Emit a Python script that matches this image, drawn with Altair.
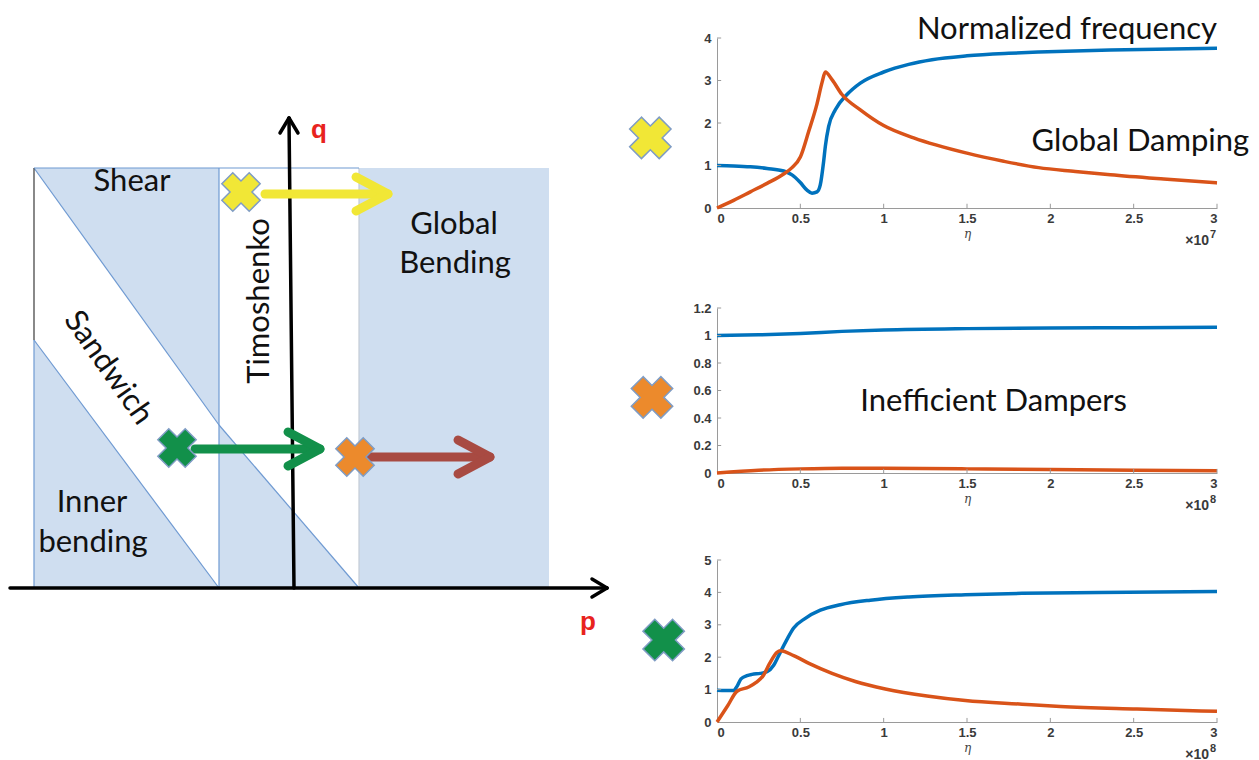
import altair as alt
import pandas as pd

# ---------------- Regime diagram (schematic p-q plane) ----------------
region_p_edges = [-26, -7.5, 6.5, 25.5]      # left edge, divider 1, divider 2, right edge
region_top_q = 42
upper_diag_p = [-26, -7.5, 6.5]
upper_diag_q = [42, 16.3, 0]
lower_diag_p = [-26, -7.5]
lower_diag_q = [24.8, 0]

p_axis_range = [-28.4, 31.3]
q_axis_top = 47

arrow_start_p = [-2.9, -9.9, 7.6]
arrow_end_p = [9.4, 2.6, 19.6]
arrow_q = [39.4, 13.9, 13.1]
arrow_colors = ["#f1e736", "#12904a", "#a84a42"]

cross_p = [-5.3, -11.7, 6.1]
cross_q = [39.6, 14.0, 13.1]
cross_colors = ["#f1e736", "#12904a", "#ec8a2c"]

diagram_labels = ["Shear", "Global", "Bending", "Inner", "bending", "Timoshenko", "Sandwich"]
label_p = [-16.2, 16.0, 16.1, -20.2, -20.1, -3.4, -18.6]
label_q = [40.6, 36.3, 32.4, 8.5, 4.5, 28.7, 22.0]
label_angle = [0, 0, 0, 0, 0, 270, 55]

axis_letters = ["q", "p"]
axis_letter_p = [2.5, 29.4]
axis_letter_q = [45.8, -3.4]

# ---------------- Right panels: normalized frequency (blue) and damping (orange) ----------------
x_ticks = [0, 0.5, 1, 1.5, 2, 2.5, 3]

eta_b1 = [0, 0.1, 0.2, 0.3, 0.4, 0.45, 0.5, 0.54, 0.57, 0.6, 0.62, 0.64, 0.65, 0.67, 0.71,
          0.78, 0.86, 1.0, 1.15, 1.29, 1.5, 1.75, 1.93, 2.36, 3.0]
val_b1 = [1.0, 0.99, 0.97, 0.93, 0.87, 0.78, 0.6, 0.42, 0.35, 0.38, 0.55, 1.1, 1.45, 1.92, 2.31,
          2.67, 2.94, 3.2, 3.38, 3.49, 3.58, 3.64, 3.67, 3.72, 3.76]
eta_r1 = [0, 0.1, 0.2, 0.3, 0.4, 0.45, 0.5, 0.55, 0.6, 0.63, 0.65, 0.69, 0.75, 0.86, 1.0, 1.18,
          1.5, 1.72, 1.93, 2.15, 2.36, 2.68, 3.0]
val_r1 = [0, 0.18, 0.38, 0.58, 0.8, 0.95, 1.2, 1.8, 2.45, 2.95, 3.2, 3.02, 2.67, 2.31, 1.94, 1.65,
          1.29, 1.1, 0.95, 0.86, 0.78, 0.68, 0.59]
y_ticks1 = [0, 1, 2, 3, 4]

eta_b2 = [0, 0.25, 0.5, 0.75, 1.0, 1.5, 2.0, 2.5, 3.0]
val_b2 = [1.0, 1.005, 1.015, 1.03, 1.04, 1.05, 1.055, 1.057, 1.06]
eta_r2 = [0, 0.25, 0.5, 0.75, 1.0, 1.5, 2.0, 2.5, 3.0]
val_r2 = [0, 0.02, 0.03, 0.035, 0.034, 0.03, 0.025, 0.02, 0.017]
y_ticks2 = [0, 0.2, 0.4, 0.6, 0.8, 1, 1.2]

eta_b3 = [0, 0.05, 0.1, 0.12, 0.144, 0.18, 0.21, 0.26, 0.3, 0.34, 0.37, 0.42, 0.46, 0.53, 0.62,
          0.74, 0.92, 1.15, 1.49, 1.83, 2.29, 3.0]
val_b3 = [0.98, 0.97, 0.97, 1.1, 1.33, 1.43, 1.47, 1.5, 1.55, 1.75, 2.05, 2.55, 2.9, 3.2, 3.45,
          3.62, 3.76, 3.86, 3.93, 3.97, 4.0, 4.03]
eta_r3 = [0, 0.064, 0.12, 0.19, 0.235, 0.28, 0.315, 0.36, 0.38, 0.46, 0.555, 0.69, 0.83, 1.01,
          1.26, 1.49, 1.83, 2.06, 2.52, 3.0]
val_r3 = [0, 0.5, 0.95, 1.08, 1.22, 1.45, 1.8, 2.15, 2.2, 2.05, 1.8, 1.5, 1.25, 1.02, 0.8, 0.66,
          0.55, 0.48, 0.4, 0.33]
y_ticks3 = [0, 1, 2, 3, 4, 5]

BLUE = "#0072BD"
ORANGE = "#D95319"
FILL = "#cfdef0"
EDGE = "#6f9ad2"
LABEL_FONT = "Lato"

# ======================= Left: regime diagram =======================
W1, H1 = 700, 700
xs = alt.Scale(domain=[-28.4, -28.4 + W1 / 10], nice=False, zero=False)
ys = alt.Scale(domain=[58 - H1 / 10, 58], nice=False, zero=False)


def X(f):
    return alt.X(f, type="quantitative", scale=xs, axis=None)


def Y(f):
    return alt.Y(f, type="quantitative", scale=ys, axis=None)


bg_df = pd.DataFrame({"p": [region_p_edges[0]], "p2": [region_p_edges[3]],
                      "q": [0], "q2": [region_top_q]})
bg = alt.Chart(bg_df).mark_rect(color=FILL).encode(
    x=X("p"), x2="p2", y=Y("q"), y2="q2")

white_df = pd.DataFrame({
    "p": [lower_diag_p[0], lower_diag_p[1], upper_diag_p[1], upper_diag_p[2]],
    "lo": [lower_diag_q[0], lower_diag_q[1], upper_diag_q[1], upper_diag_q[2]],
    "hi": [upper_diag_q[0], upper_diag_q[1], region_top_q, region_top_q],
    "r": ["sandwich", "sandwich", "timoshenko", "timoshenko"],
})
white = alt.Chart(white_df).mark_area(color="white", opacity=1).encode(
    x=X("p"), y=Y("lo"), y2="hi", detail="r:N")

L, D1, D2, R = region_p_edges
seg_df = pd.DataFrame([
    (upper_diag_p[0], upper_diag_q[0], upper_diag_p[1], upper_diag_q[1], EDGE),
    (upper_diag_p[1], upper_diag_q[1], upper_diag_p[2], upper_diag_q[2], EDGE),
    (lower_diag_p[0], lower_diag_q[0], lower_diag_p[1], lower_diag_q[1], EDGE),
    (L, region_top_q, L, lower_diag_q[0], "#3a3a3a"),
    (L, lower_diag_q[0], L, 0, EDGE),
    (D1, 0, D1, region_top_q, EDGE),
    (D2, 0, D2, region_top_q, "#c4ccd6"),
    (L, region_top_q, D2, region_top_q, EDGE),
], columns=["p", "q", "p2", "q2", "c"])
segs = alt.Chart(seg_df).mark_rule(strokeWidth=1.2).encode(
    x=X("p"), y=Y("q"), x2="p2", y2="q2", color=alt.Color("c:N", scale=None))

# black p and q axes with arrow heads
ax_df = pd.DataFrame([
    (p_axis_range[0], 0, p_axis_range[1], 0),
    (0, 0, -0.5, q_axis_top),
    (p_axis_range[1], 0, p_axis_range[1] - 1.5, 0.9),
    (p_axis_range[1], 0, p_axis_range[1] - 1.5, -0.9),
    (-0.5, q_axis_top, -1.4, q_axis_top - 1.5),
    (-0.5, q_axis_top, 0.4, q_axis_top - 1.5),
], columns=["p", "q", "p2", "q2"])
axes = alt.Chart(ax_df).mark_rule(strokeWidth=3.5, color="black", strokeCap="round").encode(
    x=X("p"), y=Y("q"), x2="p2", y2="q2")

# coloured arrows (shaft + chevron head)
arrow_rows = []
for s, e, q, c in zip(arrow_start_p, arrow_end_p, arrow_q, arrow_colors):
    arrow_rows.append((s, q, e - 0.4, q, c))
    arrow_rows.append((e, q, e - 3.2, q + 1.7, c))
    arrow_rows.append((e, q, e - 3.2, q - 1.7, c))
arr_df = pd.DataFrame(arrow_rows, columns=["p", "q", "p2", "q2", "c"])
arrows = alt.Chart(arr_df).mark_rule(strokeWidth=9, strokeCap="round").encode(
    x=X("p"), y=Y("q"), x2="p2", y2="q2", color=alt.Color("c:N", scale=None))

cross_df = pd.DataFrame({"p": cross_p, "q": cross_q, "c": cross_colors})
crosses = alt.Chart(cross_df).mark_point(
    shape="cross", angle=45, size=1500, filled=True, opacity=1,
    stroke="#7f9cc4", strokeWidth=1.5).encode(
    x=X("p"), y=Y("q"), fill=alt.Fill("c:N", scale=None))

lab_df = pd.DataFrame({"p": label_p, "q": label_q, "t": diagram_labels, "a": label_angle})
labels = alt.Chart(lab_df).mark_text(font=LABEL_FONT, fontSize=31, color="#111111",
                                     baseline="middle", align="center").encode(
    x=X("p"), y=Y("q"), text="t:N", angle=alt.Angle("a:Q", scale=None))

let_df = pd.DataFrame({"p": axis_letter_p, "q": axis_letter_q, "t": axis_letters})
letters = alt.Chart(let_df).mark_text(font="Liberation Sans", fontSize=26, fontWeight="bold",
                                      color="#e8231e", baseline="middle").encode(
    x=X("p"), y=Y("q"), text="t:N")

left = alt.layer(bg, white, segs, axes, arrows, crosses, labels, letters).properties(
    width=W1, height=H1)


# ======================= Right: three response panels =======================
def panel(eta_b, val_b, eta_r, val_r, y_ticks, height, exponent, notes, cross):
    ymax = y_ticks[-1]
    df = pd.concat([
        pd.DataFrame({"eta": eta_b, "v": val_b, "s": "frequency"}),
        pd.DataFrame({"eta": eta_r, "v": val_r, "s": "damping"}),
    ])
    xsc = alt.Scale(domain=[0, 3], nice=False, zero=False)
    ysc = alt.Scale(domain=[0, ymax], nice=False, zero=False)
    xax = alt.Axis(values=x_ticks, format="~g", title="η", ticks=False, tickSize=0,
                   labelPadding=4, titlePadding=3, titleFont="DejaVu Serif",
                   titleFontStyle="italic", titleFontWeight="normal", titleFontSize=12,
                   titleColor="#444444", grid=False)
    yax = alt.Axis(values=y_ticks, format="~g", title=None, ticks=False, tickSize=0,
                   labelPadding=6, grid=False)

    def ex(f):
        return alt.X(f, type="quantitative", scale=xsc, axis=xax)

    def ey(f):
        return alt.Y(f, type="quantitative", scale=ysc, axis=yax)

    lines = alt.Chart(df).mark_line(strokeWidth=3.5, interpolate="monotone").encode(
        x=ex("eta"), y=ey("v"),
        color=alt.Color("s:N", scale=alt.Scale(domain=["frequency", "damping"],
                                               range=[BLUE, ORANGE]), legend=None))
    tick_rows = [(t, 0, t, ymax * 0.025) for t in x_ticks[1:]] + \
                [(0, t, 0.025, t) for t in y_ticks[1:]]
    tdf = pd.DataFrame(tick_rows, columns=["eta", "v", "eta2", "v2"])
    ticks = alt.Chart(tdf).mark_rule(color="#9a9a9a", strokeWidth=1).encode(
        x=ex("eta"), y=ey("v"), x2="eta2", y2="v2")
    edf = pd.DataFrame({"eta": [3], "v": [0], "t": ["×10"], "e": [exponent]})
    exp_base = alt.Chart(edf).mark_text(
        font="Liberation Sans", fontSize=14, fontWeight="bold", color="#3a3a3a",
        align="right", baseline="middle", dx=-8, dy=33).encode(
        x=ex("eta"), y=ey("v"), text="t:N")
    exp_sup = alt.Chart(edf).mark_text(
        font="Liberation Sans", fontSize=11, fontWeight="bold", color="#3a3a3a",
        align="right", baseline="middle", dx=-1, dy=27).encode(
        x=ex("eta"), y=ey("v"), text="e:N")
    ndf = pd.DataFrame(notes, columns=["eta", "v", "t", "align"])
    txt_layers = []
    for al in ["center", "right"]:
        sub = ndf[ndf["align"] == al]
        if len(sub):
            txt_layers.append(alt.Chart(sub).mark_text(
                font=LABEL_FONT, fontSize=31, color="#111111", align=al,
                baseline="middle").encode(x=ex("eta"), y=ey("v"), text="t:N"))
    cdf = pd.DataFrame([cross], columns=["eta", "v", "c"])
    cr = alt.Chart(cdf).mark_point(shape="cross", angle=45, size=1750, filled=True,
                                   opacity=1, stroke="#7f9cc4", strokeWidth=1.5).encode(
        x=ex("eta"), y=ey("v"), fill=alt.Fill("c:N", scale=None))
    return alt.layer(lines, ticks, exp_base, exp_sup, *txt_layers, cr).properties(
        width=500, height=height)


c1 = panel(eta_b1, val_b1, eta_r1, val_r1, y_ticks1, 170, "7",
           [(3.0, 4.2, "Normalized frequency", "right"),
            (2.54, 1.55, "Global Damping", "center")],
           (-0.40, 1.65, cross_colors[0]))
c2 = panel(eta_b2, val_b2, eta_r2, val_r2, y_ticks2, 165, "8",
           [(1.66, 0.52, "Inefficient Dampers", "center")],
           (-0.39, 0.55, cross_colors[2]))
c3 = panel(eta_b3, val_b3, eta_r3, val_r3, y_ticks3, 162, "8",
           [],
           (-0.32, 2.53, cross_colors[1]))


def spacer(h):
    return alt.Chart(pd.DataFrame({"a": [0]})).mark_point(opacity=0).encode(
        x=alt.X("a:Q", axis=None), y=alt.Y("a:Q", axis=None)).properties(width=500, height=h)


right = alt.vconcat(spacer(30), c1, spacer(100), c2, spacer(87), c3,
                    spacing=0, bounds="flush").resolve_scale(
    x="independent", y="independent", color="independent")

chart = alt.hconcat(left, right, spacing=7, bounds="flush").resolve_scale(
    x="independent", y="independent", color="independent"
).properties(padding=0).configure_view(stroke=None).configure_axis(
    domainColor="#9a9a9a", domainWidth=1, labelFont="Liberation Sans", labelFontSize=13,
    labelFontWeight="bold", labelColor="#3a3a3a")

chart.save("out.html", embed_options={"renderer": "svg", "actions": False})
